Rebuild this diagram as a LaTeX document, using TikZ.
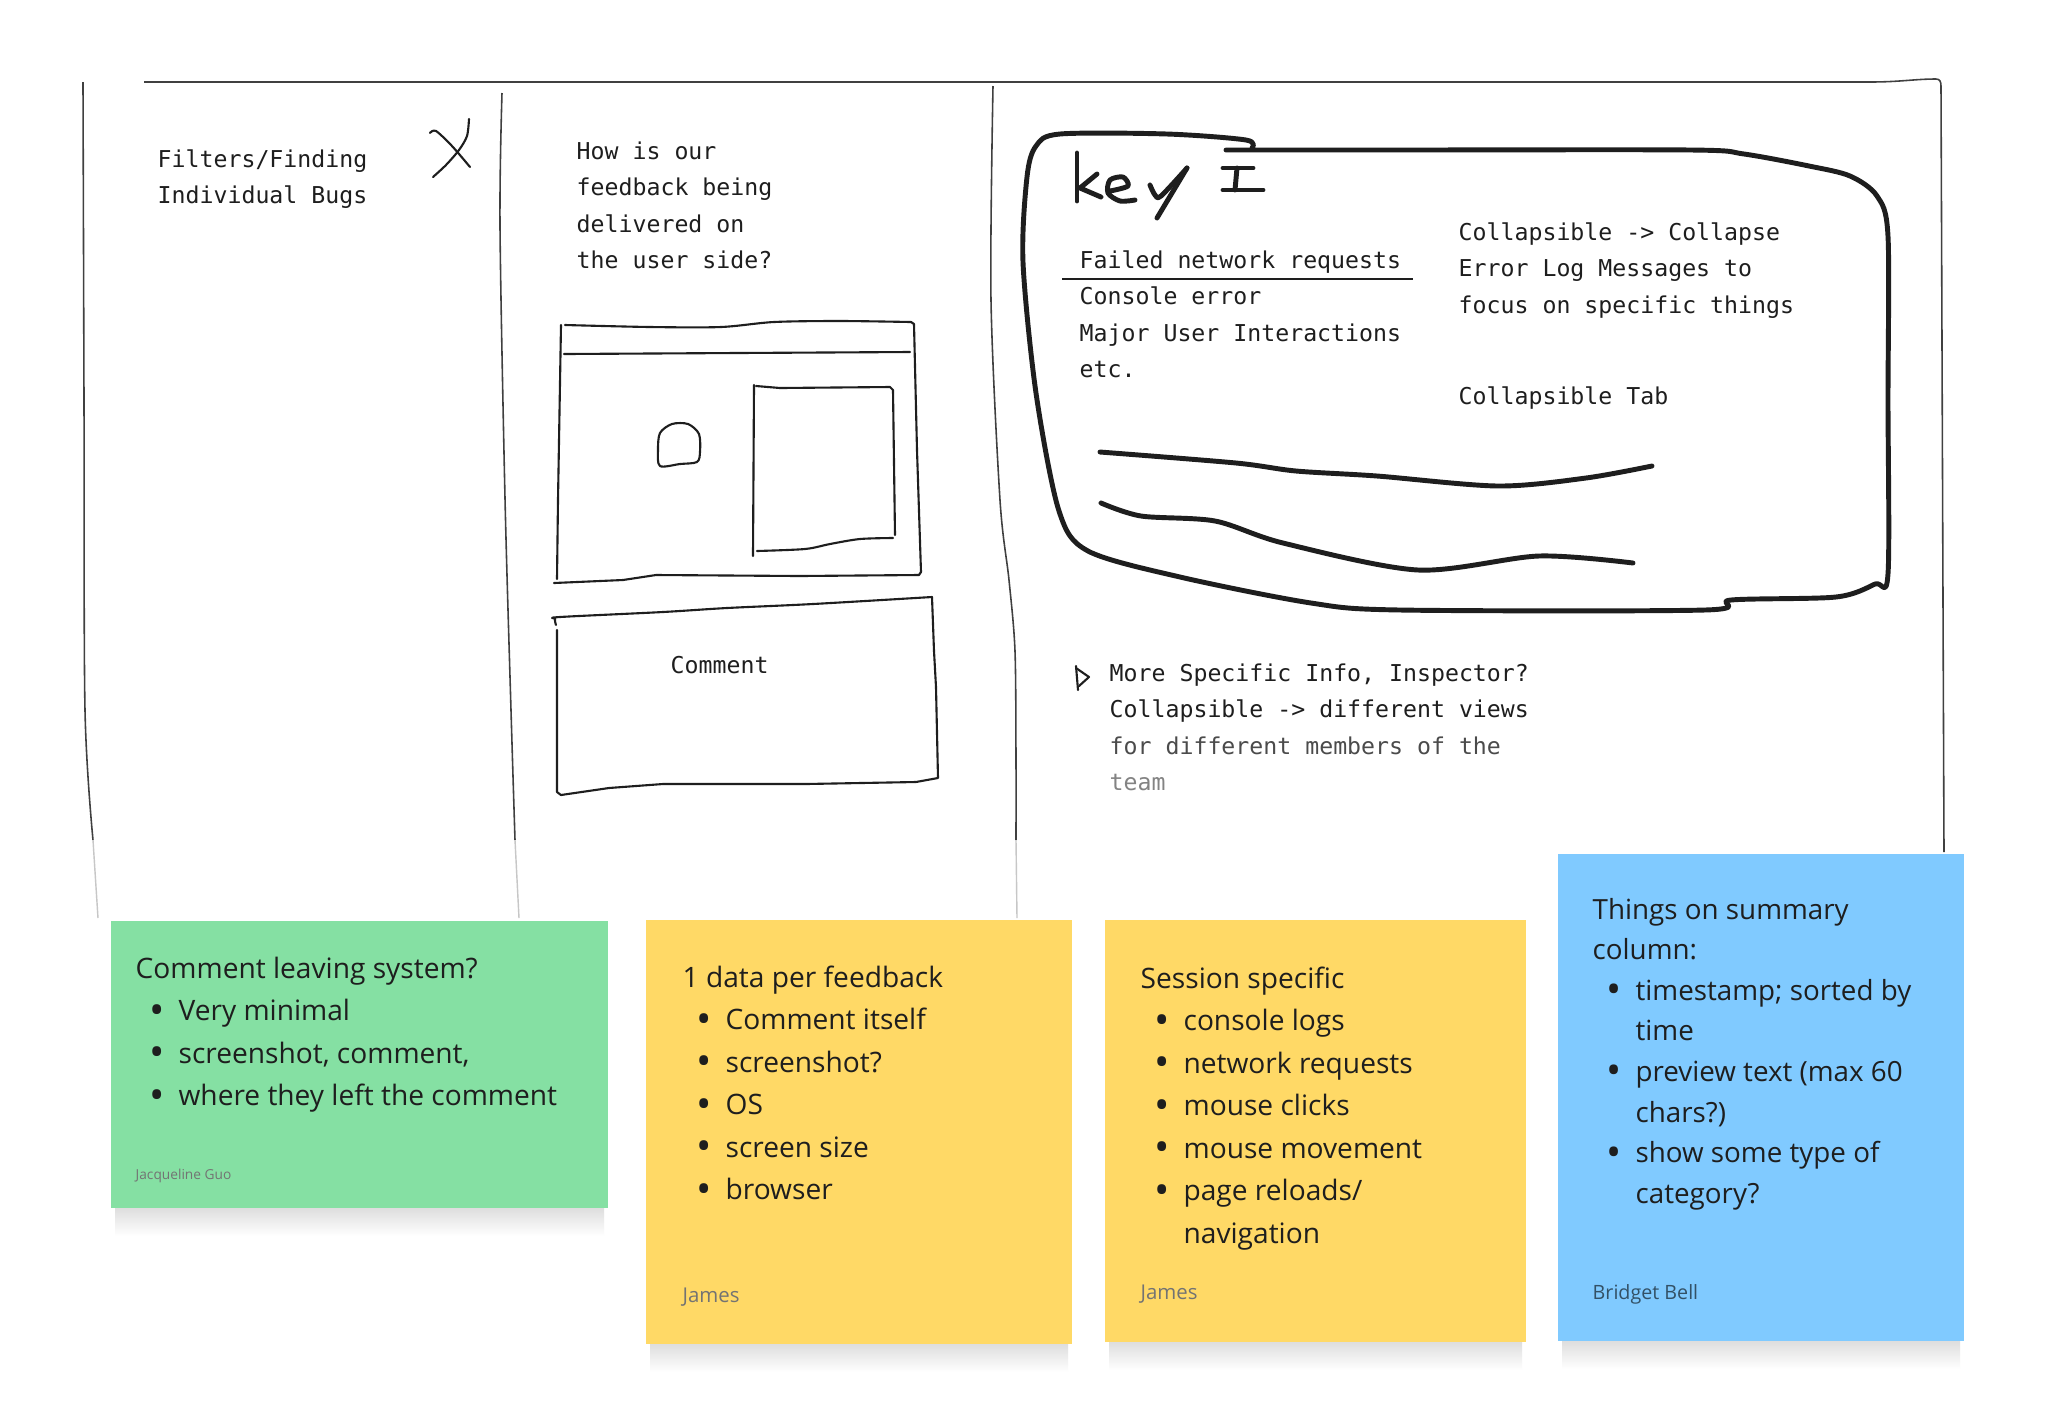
\documentclass[tikz,border=0pt]{standalone}
\usepackage{fontspec}
\setmainfont{Open Sans}
\newfontfamily\sketchfont{DejaVu Sans Mono}

\definecolor{ink}{HTML}{1E1E1E}
\definecolor{stickygreen}{HTML}{85E0A3}
\definecolor{stickyyellow}{HTML}{FFD966}
\definecolor{stickyblue}{HTML}{80CAFF}

\newcommand\textlines[1]{\begin{tabular}[t]{@{}l@{}}#1\end{tabular}}
\newcommand\notelist[1]{\begin{tabular}[t]{@{}p{12.2pt}@{}l@{}}#1\end{tabular}}
\newcommand\head[1]{\multicolumn{2}{@{}l@{}}{#1}}
\newcommand\itm{\hspace*{3.9pt}\raisebox{-1pt}{\scalebox{1.45}{\textbullet}}}

\tikzset{
  frame/.style={ink!85, line width=0.45pt},
  fade/.style={ink!25, line width=0.4pt},
  sketch/.style={ink, line width=0.6pt, line join=round, line cap=round},
  marker/.style={ink, line width=1.4pt, line join=round, line cap=round},
  mono/.style={inner sep=0pt, anchor=base west, text=ink,
    font=\sketchfont\fontsize{6.6}{10.4}\selectfont},
  dropshadow/.style={top color=black!14, bottom color=white, draw=none},
  notetext/.style={inner sep=0pt, anchor=base west, text=ink,
    font=\fontsize{8.0}{12.1}\selectfont},
  author/.style={inner sep=0pt, anchor=base west, text=black!55},
}

\begin{document}
\begin{tikzpicture}[x=0.01cm, y=-0.01cm]
  \useasboundingbox (0,0) rectangle (2056,1420);
  \fill[white] (0,0) rectangle (2056,1420);

  % board frame
  \draw[frame] (144,82) -- (1870,82) .. controls (1900,82) and (1915,79) .. (1936,79)
    .. controls (1940,79) and (1941,82) .. (1941,86) -- (1943,600) -- (1944,852);
  \draw[frame] plot[smooth] coordinates {(83,82) (84,400) (85,710) (93,840)};
  \draw[fade] (93,840) -- (98,918);
  \draw[frame] plot[smooth] coordinates {(502,93) (500,226) (505,498) (511,710) (515,840)};
  \draw[fade] (515,840) -- (519,918);
  \draw[frame] plot[smooth] coordinates {(993,86) (991,300) (1000,500) (1009,580) (1015,651) (1016,760) (1016,840)};
  \draw[fade] (1016,840) -- (1017,918);

  % first column
  \node[mono] (filters) at (157,167) {\textlines{Filters/Finding\\Individual Bugs}};
  \draw[sketch] plot[smooth] coordinates {(469,119) (467,136) (459,150) (446,165) (433,177)};
  \draw[sketch] plot[smooth] coordinates {(430,133) (436,131) (452,146) (470,167)};

  % second column
  \node[mono] (question) at (576,159) {\textlines{How is our\\feedback being\\delivered on\\the user side?}};

  % browser window
  \draw[sketch] plot[smooth] coordinates {(565,325) (650,327) (721,327) (774,322) (840,321) (911,322)}
    -- (914,324) -- (917,450) -- (921,572) -- (919,575)
    -- (800,576) -- (656,575) -- (623,580) -- (554,583);
  \draw[sketch] (561,325) -- (558,500) -- (557,579);
  \draw[sketch] (564,354) -- (910,352);
  \draw[sketch] plot[smooth cycle] coordinates {(660,466) (658,450) (660,433) (672,424) (688,424) (699,434) (700,452) (697,462) (680,464)};
  \draw[sketch] (754,385) -- (753,556);
  \draw[sketch] (756,386) -- (780,388) -- (890,387) -- (893,390) -- (895,535);
  \draw[sketch] plot[smooth] coordinates {(893,538) (860,539) (830,544) (805,549) (757,551)};

  % comment box
  \draw[sketch] plot[smooth] coordinates {(556,625) (555,619) (560,617) (663,612) (727,608) (813,604) (932,597)}
    -- (934,651) -- (936,687) -- (938,778) -- (916,782) -- (806,784) -- (663,784)
    -- (609,788) -- (561,795) -- (557,792) -- (557,630);
  \node[mono] (comment) at (670,673) {Comment};

  % third column: key box
  \draw[marker] plot[smooth] coordinates {(1252,148) (1246,140) (1167,134) (1060,134) (1036,146)
    (1027,177) (1023,262) (1036,393) (1059,511) (1088,551) (1180,577) (1311,603) (1400,610) (1705,610)
    (1731,600) (1836,597) (1875,584) (1888,574) (1888,400) (1888,236) (1877,196) (1850,176) (1809,166)
    (1744,154) (1691,150) (1400,150) (1226,150)};
  \draw[marker] (1077,153) -- (1077,201);
  \draw[marker] (1097,174) -- (1080,188) -- (1101,197);
  \draw[marker] plot[smooth] coordinates {(1110,191) (1128,186) (1123,177) (1110,180) (1108,193) (1120,201) (1135,200)};
  \draw[marker] plot[smooth] coordinates {(1150,185) (1155,195) (1161,196) (1187,168)};
  \draw[marker] (1187,168) -- (1157,218);
  \draw[marker] (1223,168) -- (1253,168);
  \draw[marker] (1237,168) -- (1235,190);
  \draw[marker] (1223,190) -- (1263,190);

  \node[mono] (keylist) at (1079,268)
    {\textlines{Failed network requests\\Console error\\Major User Interactions\\etc.}};
  \draw[ink, line width=0.5pt] (1062,279) -- (1413,279);
  \node[mono] (collapse) at (1458,240)
    {\textlines{Collapsible -> Collapse\\Error Log Messages to\\focus on specific things}};
  \node[mono] (tab) at (1458,404) {Collapsible Tab};

  \draw[marker] plot[smooth] coordinates {(1100,452) (1236,463) (1296,471) (1377,476) (1498,486) (1586,478) (1652,466)};
  \draw[marker] plot[smooth] coordinates {(1101,503) (1141,516) (1215,521) (1283,543) (1418,570) (1539,556) (1633,563)};

  % pointer and inspector note
  \draw[sketch] (1076,666) -- (1078,690);
  \draw[sketch] (1076,668) -- (1089,677) -- (1079,686);
  \node[mono] (inspector) at (1109,681)
    {\textlines{More Specific Info, Inspector?\\Collapsible -> different views\\
      \color{ink!80}for different members of the\\\color{ink!55}team}};

  % sticky notes with their shadows
  \shade[dropshadow] (115,1206) rectangle (604,1236);
  \shade[dropshadow] (650,1342) rectangle (1068,1372);
  \shade[dropshadow] (1109,1340) rectangle (1522,1370);
  \shade[dropshadow] (1562,1339) rectangle (1960,1369);
  \fill[stickygreen] (111,921) rectangle (608,1208);
  \fill[stickyyellow] (646,920) rectangle (1072,1344);
  \fill[stickyyellow] (1105,920) rectangle (1526,1342);
  \fill[stickyblue] (1558,854) rectangle (1964,1341);

  \node[notetext] (greennote) at (135,978) {\notelist{%
    \head{Comment leaving system?}\\
    \itm & Very minimal\\
    \itm & screenshot, comment,\\
    \itm & where they left the comment}};
  \node[author, font=\fontsize{3.9}{5}\selectfont] (greenauthor) at (135,1179) {Jacqueline Guo};

  \node[notetext] (datanote) at (682,987) {\notelist{%
    \head{1 data per feedback}\\
    \itm & Comment itself\\
    \itm & screenshot?\\
    \itm & OS\\
    \itm & screen size\\
    \itm & browser}};
  \node[author, font=\fontsize{5.8}{7}\selectfont] (dataauthor) at (682,1302) {James};

  \node[notetext] (sessionnote) at (1140,988) {\notelist{%
    \head{Session specific}\\
    \itm & console logs\\
    \itm & network requests\\
    \itm & mouse clicks\\
    \itm & mouse movement\\
    \itm & page reloads/\\
         & navigation}};
  \node[author, font=\fontsize{5.8}{7}\selectfont] (sessionauthor) at (1140,1299) {James};

  \node[notetext, font=\fontsize{7.9}{11.55}\selectfont] (summarynote) at (1592,919) {\notelist{%
    \head{Things on summary}\\
    \head{column:}\\
    \itm & timestamp; sorted by\\
         & time\\
    \itm & preview text (max 60\\
         & chars?)\\
    \itm & show some type of\\
         & category?}};
  \node[author, font=\fontsize{5.6}{7}\selectfont, text=black!60!stickyblue] (summaryauthor) at (1592,1299) {Bridget Bell};
\end{tikzpicture}
\end{document}
